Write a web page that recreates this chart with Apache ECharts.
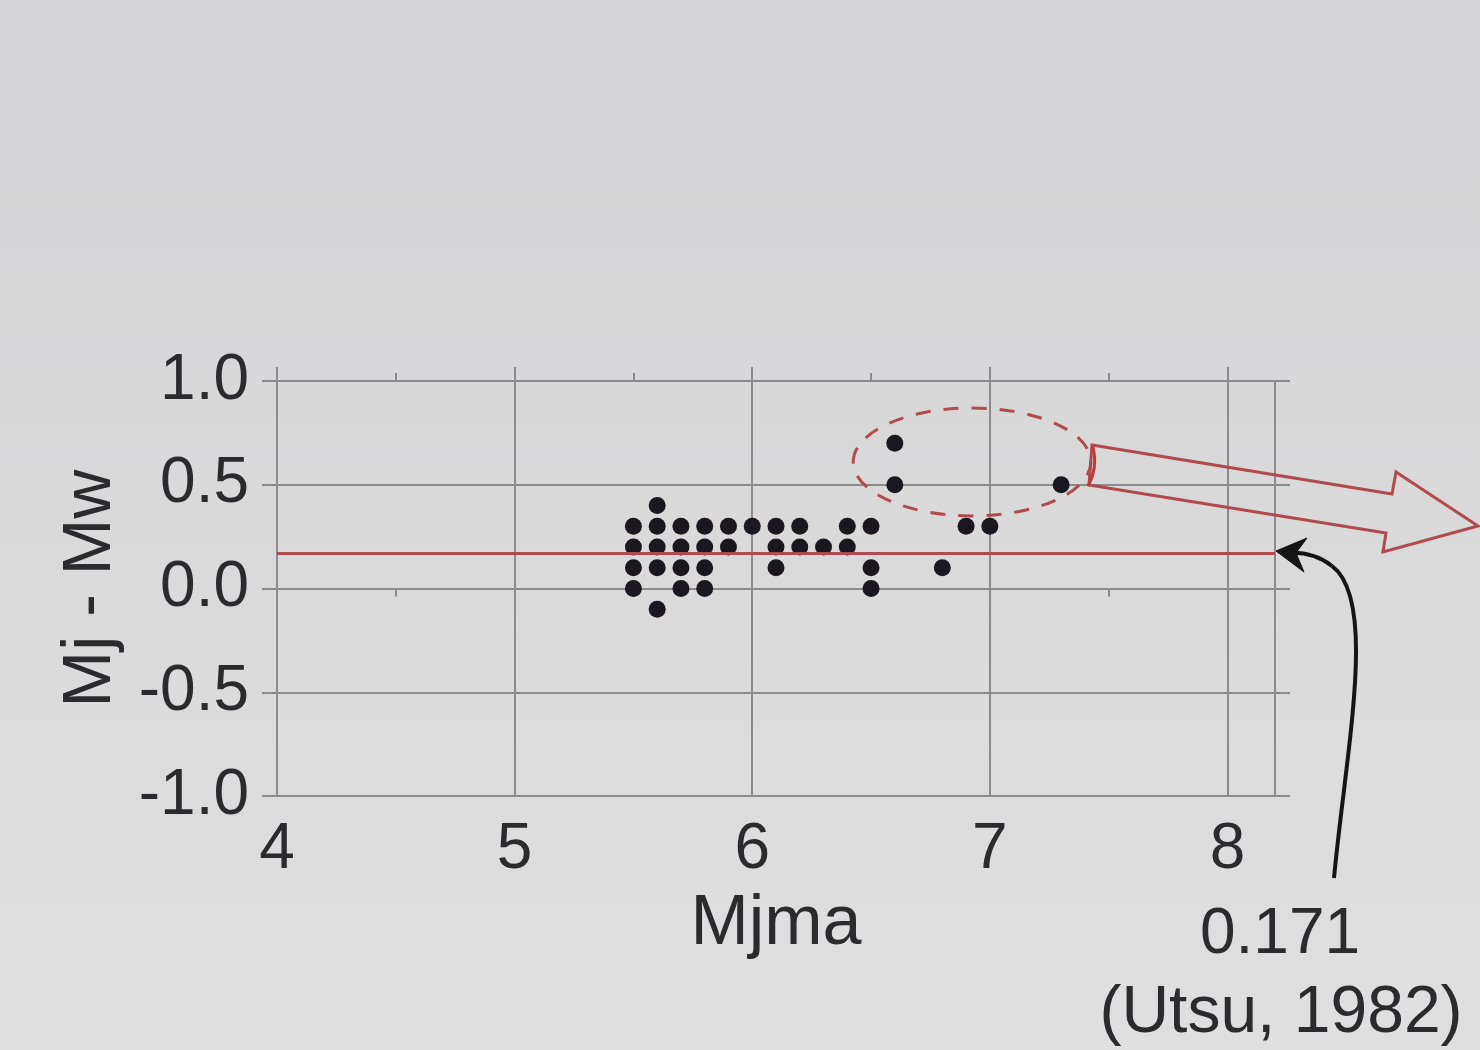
<!DOCTYPE html>
<html>
<head>
<meta charset="utf-8">
<script src="https://cdn.jsdelivr.net/npm/echarts@6/dist/echarts.min.js"></script>
<style>
  html, body { margin: 0; padding: 0; }
  #chart { width: 1480px; height: 1050px; }
</style>
</head>
<body>
<div id="chart"></div>
<script>
// ---- data ----
const mjma =      [5.5, 5.5, 5.5, 5.5,
                   5.6, 5.6, 5.6, 5.6, 5.6,
                   5.7, 5.7, 5.7, 5.7,
                   5.8, 5.8, 5.8, 5.8,
                   5.9, 5.9,
                   6.0,
                   6.1, 6.1, 6.1,
                   6.2, 6.2,
                   6.3,
                   6.4, 6.4,
                   6.5, 6.5, 6.5,
                   6.6, 6.6,
                   6.8, 6.9, 7.0, 7.3];
const mjMinusMw = [0.3, 0.2, 0.1, 0.0,
                   0.4, 0.3, 0.2, 0.1, -0.1,
                   0.3, 0.2, 0.1, 0.0,
                   0.3, 0.2, 0.1, 0.0,
                   0.3, 0.2,
                   0.3,
                   0.3, 0.2, 0.1,
                   0.3, 0.2,
                   0.2,
                   0.3, 0.2,
                   0.3, 0.1, 0.0,
                   0.7, 0.5,
                   0.1, 0.3, 0.3, 0.5];
const utsuOffset = 0.171;
const xTickValues = [4, 5, 6, 7, 8];
const xMinorTickValues = [4.5, 5.5, 6.5, 7.5];
const yTickValues = [-1.0, -0.5, 0.0, 0.5, 1.0];
const xRange = [4, 8.2];
const yRange = [-1, 1];
const xName = 'Mjma';
const yName = 'Mj - Mw';
const noteValue = '0.171';
const noteSource = '(Utsu, 1982)';

// ---- styles ----
const FONT = '"Liberation Sans", Arial, sans-serif';
const TXT = '#2b2b2d';
const GRID = '#8b8b8e';
const RED = '#b04a4c';

const points = mjma.map((x, i) => [x, mjMinusMw[i]]);

const chart = echarts.init(document.getElementById('chart'));

function xAxisDef(pos, ticks, len, withLabels, withSplit) {
  return {
    type: 'value', position: pos, min: xRange[0], max: xRange[1], interval: 1,
    axisLine: { show: false },
    axisTick: { show: true, customValues: ticks, length: len, inside: false,
                lineStyle: { color: GRID, width: 2 } },
    axisLabel: withLabels ? {
      show: true, customValues: xTickValues, fontSize: 64, fontFamily: FONT,
      color: TXT, margin: 22
    } : { show: false },
    splitLine: { show: withSplit, lineStyle: { color: GRID, width: 2 } },
    name: withLabels ? xName : '',
    nameLocation: 'middle', nameGap: 94,
    nameTextStyle: { fontSize: 70, fontFamily: FONT, color: TXT }
  };
}

chart.setOption({
  backgroundColor: new echarts.graphic.LinearGradient(0, 0, 0, 1, [
    { offset: 0, color: '#d4d4d6' },
    { offset: 1, color: '#dfdfdf' }
  ]),
  animation: false,
  grid: { left: 277, right: 205, top: 381, bottom: 254, containLabel: false },
  xAxis: [
    xAxisDef('bottom', xTickValues, 14, true, true),
    xAxisDef('bottom', xMinorTickValues, 8, false, false),
    xAxisDef('top', xTickValues, 14, false, false),
    xAxisDef('top', xMinorTickValues, 8, false, false)
  ],
  yAxis: [
    {
      type: 'value', position: 'left', min: yRange[0], max: yRange[1], interval: 0.5,
      axisLine: { show: false },
      axisTick: { show: true, length: 15, lineStyle: { color: GRID, width: 2 } },
      axisLabel: { show: true, fontSize: 64, fontFamily: FONT, color: TXT, margin: 28,
                   formatter: v => v.toFixed(1) },
      splitLine: { show: true, lineStyle: { color: GRID, width: 2 } },
      name: yName, nameLocation: 'middle', nameRotate: 90, nameGap: 152,
      nameTextStyle: { fontSize: 68, fontFamily: FONT, color: TXT }
    },
    {
      type: 'value', position: 'right', min: yRange[0], max: yRange[1], interval: 0.5,
      axisLine: { show: true, lineStyle: { color: GRID, width: 2 } },
      axisTick: { show: true, customValues: yTickValues, length: 15,
                  lineStyle: { color: GRID, width: 2 } },
      axisLabel: { show: false },
      splitLine: { show: false }
    }
  ],
  series: [
    {
      type: 'scatter',
      xAxisIndex: 0, yAxisIndex: 0,
      data: points,
      symbol: 'circle',
      symbolSize: 17,
      itemStyle: { color: '#1b171e', opacity: 1 },
      z: 3,
      markLine: {
        silent: true,
        symbol: ['none', 'none'],
        label: { show: false },
        lineStyle: { color: RED, width: 3, type: 'solid', opacity: 1 },
        data: [{ yAxis: utsuOffset }],
        z: 4
      }
    }
  ]
});

// ---- annotations ----
const c = chart.convertToPixel({ xAxisIndex: 0, yAxisIndex: 0 }, [6.925, 0.61]);
const cx2 = chart.convertToPixel({ xAxisIndex: 0, yAxisIndex: 0 }, [7.425, 0.61]);
const cy2 = chart.convertToPixel({ xAxisIndex: 0, yAxisIndex: 0 }, [6.925, 0.87]);
const tip = chart.convertToPixel({ xAxisIndex: 0, yAxisIndex: 0 }, [xRange[1], utsuOffset]);

chart.setOption({
  graphic: [
    {
      type: 'ellipse', z: 10,
      shape: { cx: c[0], cy: c[1], rx: cx2[0] - c[0], ry: c[1] - cy2[1] },
      style: { fill: 'none', stroke: RED, lineWidth: 3, lineDash: [15, 13] }
    },
    {
      type: 'polygon', z: 10,
      shape: { points: [[1092, 445], [1392, 494], [1396, 472], [1478, 526],
                        [1383, 552], [1386, 533], [1089, 485]] },
      style: { fill: 'none', stroke: RED, lineWidth: 3, lineJoin: 'miter' }
    },
    {
      type: 'bezierCurve', z: 10,
      shape: { x1: 1093, y1: 447, cpx1: 1098, cpy1: 468, x2: 1088, y2: 486 },
      style: { fill: 'none', stroke: '#c03a34', lineWidth: 3 }
    },
    {
      type: 'bezierCurve', z: 11,
      shape: { x1: 1334, y1: 878, cpx1: 1346, cpy1: 750, cpx2: 1378, cpy2: 600, x2: 1332, y2: 566 },
      style: { fill: 'none', stroke: '#151515', lineWidth: 4 }
    },
    {
      type: 'bezierCurve', z: 11,
      shape: { x1: 1332, y1: 566, cpx1: 1318, cpy1: 555, cpx2: 1302, cpy2: 552, x2: tip[0] + 12, y2: tip[1] },
      style: { fill: 'none', stroke: '#151515', lineWidth: 4 }
    },
    {
      type: 'polygon', z: 11,
      shape: { points: [[tip[0] + 1, tip[1] - 2], [tip[0] + 32, tip[1] - 15],
                        [tip[0] + 21, tip[1] + 0], [tip[0] + 29, tip[1] + 19]] },
      style: { fill: '#151515', stroke: '#151515', lineWidth: 1 }
    },
    {
      type: 'text', z: 12, x: 1280, y: 935,
      style: { text: noteValue, fontSize: 64, fontFamily: FONT, fill: TXT,
               align: 'center', verticalAlign: 'middle' }
    },
    {
      type: 'text', z: 12, x: 1281, y: 1014,
      style: { text: noteSource, fontSize: 66, fontFamily: FONT, fill: TXT,
               align: 'center', verticalAlign: 'middle' }
    }
  ]
});
</script>
</body>
</html>
